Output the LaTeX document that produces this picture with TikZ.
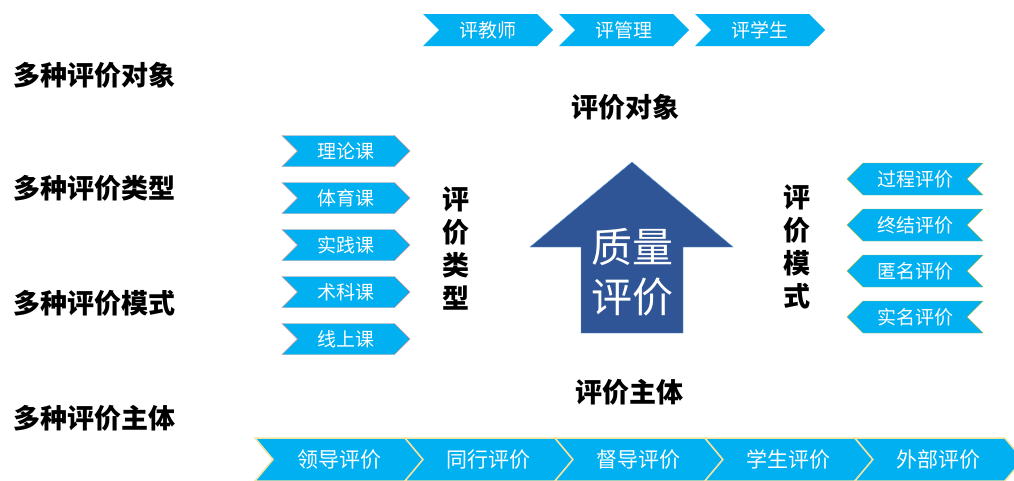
\documentclass[tikz,border=0pt]{standalone}
\usepackage{fontspec}
\setmainfont{Noto Sans CJK SC}
\usepackage{tikz}
\usetikzlibrary{positioning}
\usetikzlibrary{shapes.symbols}

\definecolor{chevcyan}{HTML}{00B0F0}
\definecolor{edgepink}{HTML}{D99694}
\definecolor{edgegreen}{HTML}{9BBB59}
\definecolor{edgecream}{HTML}{F3E3A0}
\definecolor{arrowblue}{HTML}{2F5597}
\definecolor{arrowedge}{HTML}{5B9BD5}

\begin{document}
\begin{tikzpicture}[x=1pt,y=-1pt,inner sep=0pt,outer sep=0pt,
    chev/.style={signal,fill=chevcyan,text=white,signal pointer angle=90,font=\fontsize{19}{19}\selectfont},
    chevr/.style={chev,signal to=east,signal from=west},
    chevl/.style={chev,signal to=west,signal from=east},
    title/.style={font=\fontsize{27}{27}\selectfont\bfseries},
    vtitle/.style={font=\fontsize{27}{33}\selectfont\bfseries,align=center}]
    \useasboundingbox (0,0) rectangle (1014,480);
    \clip (0,0) rectangle (1014,480);

    % left column
    \node[title,anchor=west] (m_obj) at (13,75) {多种评价对象};
    \node[title,anchor=west] (m_type) at (13,188) {多种评价类型};
    \node[title,anchor=west] (m_mode) at (13,303) {多种评价模式};
    \node[title,anchor=west] (m_subj) at (13,418) {多种评价主体};

    % top: objects
    \node[chevr,minimum width=130pt,minimum height=32pt] (o_1) at (488,30) {评教师};
    \node[chevr,minimum width=130pt,minimum height=32pt] (o_2) [right=22pt of o_1] {评管理};
    \node[chevr,minimum width=130pt,minimum height=32pt] (o_3) [right=22pt of o_2] {评学生};
    \node[title] (obj) at (625,107) {评价对象};

    % left: types
    \node[chevr,draw=edgepink,minimum width=128pt,minimum height=31pt] (t_1) at (346,151) {理论课};
    \node[chevr,draw=edgepink,minimum width=128pt,minimum height=31pt] (t_2) [below=16pt of t_1] {体育课};
    \node[chevr,draw=edgepink,minimum width=128pt,minimum height=31pt] (t_3) [below=16pt of t_2] {实践课};
    \node[chevr,draw=edgepink,minimum width=128pt,minimum height=31pt] (t_4) [below=16pt of t_3] {术科课};
    \node[chevr,draw=edgepink,minimum width=128pt,minimum height=31pt] (t_5) [below=16pt of t_4] {线上课};
    \node[vtitle] (type) at (456,248) {评\\价\\类\\型};

    % centre
    \draw[arrowedge,fill=arrowblue] (632,162) -- (733,247) -- (683,247) -- (683,333)
        -- (581,333) -- (581,247) -- (530,247) -- cycle;
    \node[text=white,align=center,font=\fontsize{41}{50}\selectfont] (qual) at (632,272) {质量\\评价};

    % right: modes
    \node[chevl,draw=edgegreen,minimum width=136pt,minimum height=32pt] (p_1) at (915,179) {过程评价};
    \node[chevl,draw=edgegreen,minimum width=136pt,minimum height=32pt] (p_2) [below=14pt of p_1] {终结评价};
    \node[chevl,draw=edgegreen,minimum width=136pt,minimum height=32pt] (p_3) [below=14pt of p_2] {匿名评价};
    \node[chevl,draw=edgegreen,minimum width=136pt,minimum height=32pt] (p_4) [below=14pt of p_3] {实名评价};
    \node[vtitle] (mode) at (797,247) {评\\价\\模\\式};

    % bottom: subjects
    \node[title] (subj) at (629,392) {评价主体};
    \node[chevr,draw=edgecream,line width=1.5pt,signal pointer angle=100,minimum width=168pt,minimum height=43pt,font=\fontsize{21}{21}\selectfont] (s_1) at (339,459.5) {领导评价};
    \node[chevr,draw=edgecream,line width=1.5pt,signal pointer angle=100,minimum width=168pt,minimum height=43pt,font=\fontsize{21}{21}\selectfont] (s_2) [right=0pt of s_1] {同行评价};
    \node[chevr,draw=edgecream,line width=1.5pt,signal pointer angle=100,minimum width=168pt,minimum height=43pt,font=\fontsize{21}{21}\selectfont] (s_3) [right=0pt of s_2] {督导评价};
    \node[chevr,draw=edgecream,line width=1.5pt,signal pointer angle=100,minimum width=168pt,minimum height=43pt,font=\fontsize{21}{21}\selectfont] (s_4) [right=0pt of s_3] {学生评价};
    \node[chevr,draw=edgecream,line width=1.5pt,signal pointer angle=100,minimum width=168pt,minimum height=43pt,font=\fontsize{21}{21}\selectfont] (s_5) [right=0pt of s_4] {外部评价};
\end{tikzpicture}
\end{document}
